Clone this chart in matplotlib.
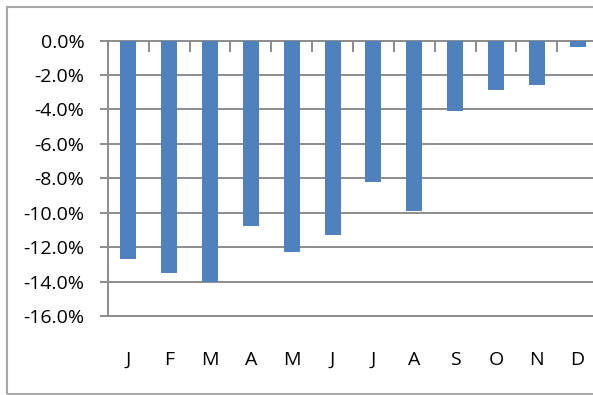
import matplotlib.pyplot as plt
import numpy as np
from matplotlib.patches import Rectangle
from matplotlib.ticker import FuncFormatter, MultipleLocator

# monthly change, in percent
months = ["J", "F", "M", "A", "M", "J", "J", "A", "S", "O", "N", "D"]
change = [-12.7, -13.5, -14.0, -10.8, -12.3, -11.3, -8.2, -9.9, -4.1, -2.9, -2.6, -0.4]

BAR = "#4F81BD"
GRID = "#8C8C8C"

plt.rcParams["font.family"] = ["Open Sans", "DejaVu Sans"]

W, H = 593, 395
fig = plt.figure(figsize=(W / 100, H / 100), dpi=100)
fig.patches.append(Rectangle((7 / W, 1 / H), 1.2, 1 - 8 / H, transform=fig.transFigure,
                             fill=False, edgecolor="#A6A6A6", linewidth=1.5))

left, right, top, bottom = 108, 598, 40.5, 316
ax = fig.add_axes([left / W, 1 - bottom / H, (right - left) / W, (bottom - top) / H])

x = np.arange(len(months))
ax.bar(x, change, width=0.39, color=BAR, zorder=3)

ax.set_xlim(-0.5, len(months) - 0.5)
ax.set_ylim(-16, 0)
ax.yaxis.set_major_locator(MultipleLocator(2))
ax.yaxis.set_major_formatter(FuncFormatter(lambda v, _: f"{v:.1f}%"))
ax.grid(axis="y", color=GRID, linewidth=1.4, zorder=0)

for side in ("top", "bottom", "left"):
    ax.spines[side].set_color(GRID)
    ax.spines[side].set_linewidth(1.4)
ax.spines["right"].set_visible(False)

# month labels below, category separators hanging from the zero line
ax.set_xticks(x)
ax.set_xticklabels(months)
ax.tick_params(axis="x", which="major", length=0, pad=25, labelsize=14)
ax.set_xticks(np.arange(-0.5, len(months), 1), minor=True)
ax.tick_params(axis="x", which="minor", top=True, bottom=False, direction="in",
               length=8, width=1.4, color=GRID)
ax.tick_params(axis="y", length=6, width=1.4, color=GRID, pad=11, labelsize=14)

fig.savefig("out.png", dpi=100)
